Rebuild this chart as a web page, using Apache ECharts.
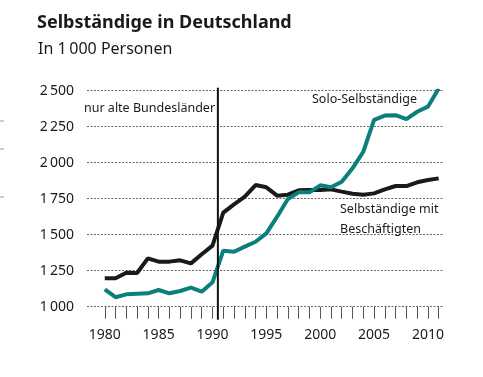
<!DOCTYPE html>
<html>
<head>
<meta charset="utf-8">
<script src="https://cdn.jsdelivr.net/npm/echarts@6/dist/echarts.min.js"></script>
<style>html,body{margin:0;padding:0;background:#fff}#c{width:483px;height:377px}</style>
</head>
<body>
<div id="c"></div>
<script>
const years = [1980,1981,1982,1983,1984,1985,1986,1987,1988,1989,1990,1991,1992,1993,1994,1995,1996,1997,1998,1999,2000,2001,2002,2003,2004,2005,2006,2007,2008,2009,2010,2011];
const mitBeschaeftigten = [1198,1198,1236,1234,1336,1313,1313,1322,1301,1364,1424,1653,1711,1764,1845,1829,1771,1778,1808,1810,1810,1815,1799,1784,1778,1787,1815,1838,1838,1864,1880,1891];
const soloSelbstaendige = [1121,1066,1086,1090,1093,1116,1093,1109,1132,1104,1169,1389,1382,1417,1451,1509,1625,1748,1794,1794,1843,1829,1868,1961,2076,2297,2327,2330,2303,2354,2389,2515];
const yTicks = [1000,1250,1500,1750,2000,2250,2500];
const xLabelYears = [1980,1985,1990,1995,2000,2005,2010];
const reunification = 1990.5;

const FONT = 'Noto Sans';
const chart = echarts.init(document.getElementById('c'), null, {renderer:'canvas'});
function fmt(v){ const s = String(v); return s.length > 3 ? s.slice(0, s.length-3) + '\u2009' + s.slice(-3) : s; }

chart.setOption({
  animation:false,
  textStyle:{fontFamily:FONT},
  title:[
    {text:'Selbständige in Deutschland', left:32, top:9, textStyle:{fontFamily:FONT, fontSize:18, fontWeight:'bold', color:'#1a1a1a'}},
    {text:'In 1\u2009000 Personen', left:33, top:36, textStyle:{fontFamily:FONT, fontSize:16, fontWeight:'normal', color:'#1a1a1a'}}
  ],
  grid:{left:87, right:40, top:90.7, bottom:70.3},
  xAxis:{
    type:'value', min:1978.35, max:2011.4,
    axisLine:{show:false},
    axisTick:{show:true, customValues:years, length:12, lineStyle:{color:'#555', width:1}},
    axisLabel:{customValues:xLabelYears, formatter:v=>String(Math.round(v)), color:'#1a1a1a', fontSize:14, margin:21, fontFamily:FONT},
    splitLine:{show:false}
  },
  yAxis:{
    type:'value', min:yTicks[0], max:yTicks[yTicks.length-1], interval:250,
    axisLine:{show:false}, axisTick:{show:false},
    axisLabel:{formatter:fmt, color:'#1a1a1a', fontSize:14, margin:13, fontFamily:FONT},
    splitLine:{show:true, lineStyle:{color:'#666', width:1, type:[2,1.5]}}
  },
  series:[
    {name:'Selbständige mit Beschäftigten', type:'line', data:years.map((y,i)=>[y,mitBeschaeftigten[i]]), showSymbol:false, lineStyle:{color:'#1a1a1a', width:4}, itemStyle:{color:'#1a1a1a'}, z:3},
    {name:'Solo-Selbständige', type:'line', data:years.map((y,i)=>[y,soloSelbstaendige[i]]), showSymbol:false, lineStyle:{color:'#0b7f7c', width:4}, itemStyle:{color:'#0b7f7c'}, z:4}
  ]
});

const pTop = chart.convertToPixel({gridIndex:0}, [reunification, 2500]);
const pBot = chart.convertToPixel({gridIndex:0}, [reunification, 1000]);
chart.setOption({
  graphic:[
    {type:'line', shape:{x1:pTop[0], y1:pTop[1]-3, x2:pBot[0], y2:pBot[1]+13}, style:{stroke:'#111', lineWidth:2}, z:10},
    {type:'text', left:84, top:102, style:{text:'nur alte Bundesländer', font:'12.5px "Noto Sans"', fill:'#1a1a1a'}},
    {type:'text', left:312, top:93, style:{text:'Solo-Selbständige', font:'12.5px "Noto Sans"', fill:'#1a1a1a'}},
    {type:'text', left:340, top:199, style:{text:'Selbständige mit\nBeschäftigten', font:'12.5px "Noto Sans"', fill:'#1a1a1a', lineHeight:20}},
    {type:'line', shape:{x1:0, y1:121, x2:4, y2:121}, style:{stroke:'#999', lineWidth:1}},
    {type:'line', shape:{x1:0, y1:149, x2:4, y2:149}, style:{stroke:'#999', lineWidth:1}},
    {type:'line', shape:{x1:0, y1:197, x2:4, y2:197}, style:{stroke:'#999', lineWidth:1}}
  ]
});
</script>
</body>
</html>
